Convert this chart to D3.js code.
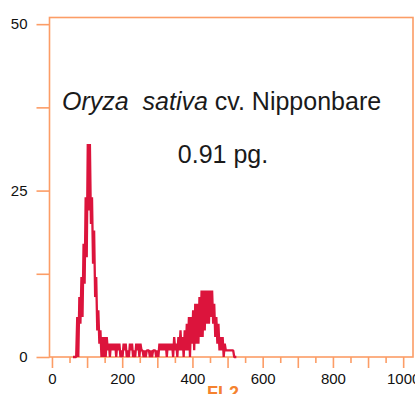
<!DOCTYPE html>
<html>
<head>
<meta charset="utf-8">
<script src="https://cdn.jsdelivr.net/npm/d3@7"></script>
<style>
  body { margin: 0; background: #fff; }
  text { font-family: "Liberation Sans", Arial, sans-serif; }
</style>
</head>
<body>
<script>

// histogram, read as min/max envelope per 6-channel bin (FL2 channel, counts)
var binChannels = d3.range(60, 523, 6);
var hiCounts = [0,0,6,9,12,17,24,32,32,24,19,12,7,4,3,3,3,2,2,2,2,2,2,1,2,2,1,2,2,1,2,2,2,1,1,1,1,1,1,1,1,2,2,2,2,2,2,2,3,2,3,4,3,4,5,6,6,7,8,8,9,10,10,10,10,10,10,8,6,5,3,3,2,1,1,1,1,0];
var loCounts = [0,0,0,5,6,11,15,22,20,14,9,4,2,0,0,0,1,0,1,1,0,1,0,0,1,0,0,1,0,0,1,0,1,0,0,1,0,0,1,0,0,1,1,1,0,1,1,0,1,0,1,1,0,1,1,0,2,1,2,2,3,3,4,5,5,6,5,3,2,1,1,0,1,1,1,1,0,0];

var yMajor = [0, 25, 50];
var yMinor = [12.5, 37.5];
var xMajor = [0, 100, 200, 300, 400, 500, 600, 700, 800, 900, 1000];
var xMinor = [50, 150, 250, 350, 450, 550, 650, 750, 850, 950];

var width = 415, height = 394;
var orange = "#fc9d66";
var red = "#dc143c";

var svg = d3.select("body").append("svg")
    .attr("width", width)
    .attr("height", height);

var x = d3.scaleLinear().domain([-7, 1028]).range([49.5, 413]);
var y = d3.scaleLinear().domain([0, 51]).range([357, 17.5]);

// y axis, ticks every 12.5, labels on 0/25/50
var yAxis = svg.append("g")
    .attr("transform", "translate(" + x.range()[0] + ",0)")
    .call(d3.axisLeft(y)
        .tickValues(yMajor.concat(yMinor))
        .tickSize(13)
        .tickPadding(9)
        .tickFormat(function(d){ return yMajor.indexOf(d) >= 0 ? d : ""; }));

// x axis, long ticks on hundreds, short ones between
var xAxis = svg.append("g")
    .attr("transform", "translate(0," + y(0) + ")")
    .call(d3.axisBottom(x)
        .tickValues(xMajor)
        .tickSize(11)
        .tickPadding(5)
        .tickFormat(function(d){ return d % 200 === 0 ? d : ""; }));

var xAxisMinor = svg.append("g")
    .attr("transform", "translate(0," + y(0) + ")")
    .call(d3.axisBottom(x).tickValues(xMinor).tickSize(6).tickFormat(""));

[yAxis, xAxis, xAxisMinor].forEach(function(a){
    a.select(".domain").remove();
    a.selectAll("line").attr("stroke", orange).attr("stroke-width", 1.6);
    a.selectAll("text")
        .attr("fill", "#111")
        .style("font-size", "15px")
        .style("font-family", "'Liberation Sans', Arial, sans-serif");
});

// plot frame
svg.append("rect")
    .attr("x", x.range()[0])
    .attr("y", y.range()[1])
    .attr("width", x.range()[1] - x.range()[0])
    .attr("height", y.range()[0] - y.range()[1])
    .attr("fill", "none")
    .attr("stroke", orange)
    .attr("stroke-width", 1.6);

// histogram trace: zig-zags between the bin max and the bin min
var pts = [];
for (var i = 0; i < binChannels.length; i++) {
    pts.push([binChannels[i], hiCounts[i]]);
    pts.push([binChannels[i] + 3, loCounts[i]]);
}

var line = d3.line()
    .x(function(d){ return x(d[0]); })
    .y(function(d){ return y(d[1]); });

svg.append("path")
    .datum(pts)
    .attr("d", line)
    .attr("fill", "none")
    .attr("stroke", red)
    .attr("stroke-width", 2.3)
    .attr("stroke-linejoin", "bevel");

// annotation
var t1 = svg.append("text")
    .attr("x", 62)
    .attr("y", 110)
    .attr("fill", "#1a1a1a")
    .style("font-size", "25px");
t1.append("tspan").style("font-style", "italic").text("Oryza\u00a0\u00a0sativa");
t1.append("tspan").text(" cv. Nipponbare");

svg.append("text")
    .attr("x", 223)
    .attr("y", 163)
    .attr("text-anchor", "middle")
    .attr("fill", "#1a1a1a")
    .style("font-size", "25px")
    .text("0.91 pg.");

// x title, mostly below the window edge
svg.append("text")
    .attr("x", 223)
    .attr("y", 399)
    .attr("text-anchor", "middle")
    .attr("fill", "#f5822e")
    .style("font-size", "18px")
    .style("font-weight", "bold")
    .text("FL2");

</script>
</body>
</html>
